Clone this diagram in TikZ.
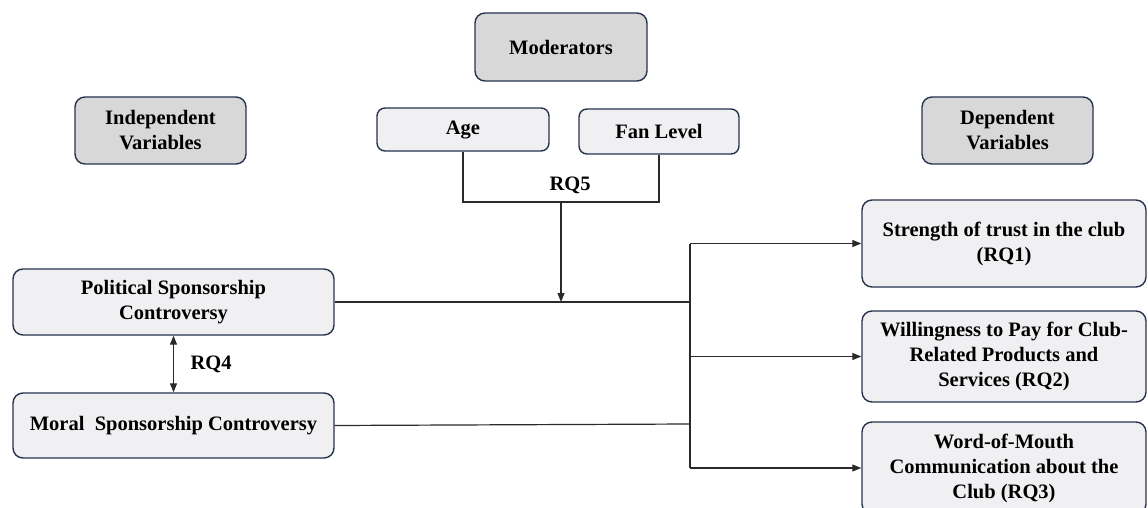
\documentclass[tikz,border=0pt]{standalone}
\usepackage{fontspec}
\setmainfont{Liberation Serif}
\usetikzlibrary{arrows.meta}
\definecolor{boxline}{HTML}{26334D}
\definecolor{headfill}{HTML}{D8D8D8}
\definecolor{boxfill}{HTML}{F0F0F2}
\definecolor{conn}{HTML}{2A2A2A}
\tikzset{
  basebox/.style={draw=boxline, line width=1.4pt, rounded corners=10pt, align=center,
    inner sep=0pt, font=\fontsize{20.5}{25}\selectfont\bfseries, text=black},
  headbox/.style={basebox, fill=headfill},
  varbox/.style={basebox, fill=boxfill},
  conline/.style={draw=conn, line width=1.2pt},
  conarrow/.style={conline, -{Triangle[length=9pt,width=7pt]}},
  rqlabel/.style={font=\fontsize{20.5}{25}\selectfont\bfseries, inner sep=0pt}
}
\begin{document}
\begin{tikzpicture}[x=1pt,y=-1pt]
\useasboundingbox (0,0) rectangle (1148,508);
% headers
\node[headbox, minimum width=172pt, minimum height=68pt] (mod) at (561,47) {Moderators};
\node[headbox, minimum width=171pt, minimum height=67pt] (ind) at (160.5,130.5) {Independent\\Variables};
\node[headbox, minimum width=171pt, minimum height=67pt] (dep) at (1007.5,130.5) {Dependent\\Variables};
% moderators
\node[varbox, rounded corners=8pt, minimum width=172pt, minimum height=43pt] (age) at (463,129.5) {Age};
\node[varbox, rounded corners=8pt, minimum width=160pt, minimum height=45pt] (fan) at (659,131.5) {Fan Level};
% independent
\node[varbox, minimum width=321pt, minimum height=66pt] (pol) at (173.5,302) {Political Sponsorship\\Controversy};
\node[varbox, minimum width=321pt, minimum height=65pt] (mor) at (173.5,425.5) {Moral\ \ Sponsorship Controversy};
% dependent
\node[varbox, minimum width=284pt, minimum height=87pt] (trust) at (1004,243.5) {Strength of trust in the club\\(RQ1)};
\node[varbox, minimum width=284pt, minimum height=91pt] (pay) at (1004,356.5) {Willingness to Pay for Club-\\Related Products and\\Services (RQ2)};
\node[varbox, minimum width=284pt, minimum height=92pt] (wom) at (1004,468) {Word-of-Mouth\\Communication about the\\Club (RQ3)};
% coordinates
\coordinate (m) at (561,202);
\coordinate (j) at (561,302);
\coordinate (b1) at (690,302);
\coordinate (b2) at (690,424);
\coordinate (bt) at (690,243.5);
\coordinate (bp) at (690,356.5);
\coordinate (bw) at (690,468);
% moderator connector
\draw[conline] (age.south) -- (age.south |- m) -| (fan.south);
\draw[conarrow] (m) -- (j);
\node[rqlabel] (rq5) at (570,185) {RQ5};
% independent lines
\draw[conline] (pol.east) -- (b1);
\draw[conline] (mor.east) -- (b2);
\draw[conline] (bt) -- (bw);
\draw[conarrow] (bt) -- (trust.west);
\draw[conarrow] (bp) -- (pay.west);
\draw[conarrow] (bw) -- (wom.west);
% RQ4
\draw[conline, {Triangle[length=9pt,width=7pt]}-{Triangle[length=9pt,width=7pt]}] (pol.south) -- (mor.north);
\node[rqlabel] (rq4) at (211,364) {RQ4};
\end{tikzpicture}
\end{document}
